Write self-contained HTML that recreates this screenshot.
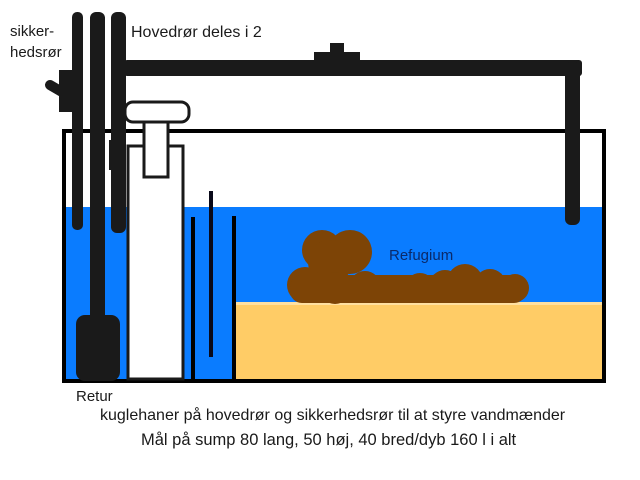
<!DOCTYPE html>
<html><head><meta charset="utf-8"><style>
html,body{margin:0;padding:0;background:#fff;width:640px;height:480px;overflow:hidden}
svg{display:block}
text{font-family:"Liberation Sans",sans-serif;fill:#1a1a1a}
</style></head><body>
<svg width="640" height="480" viewBox="0 0 640 480">
<rect x="66" y="207" width="536" height="172" fill="#0a7cff"/>
<rect x="232" y="304" width="372" height="76" fill="#ffcc66"/>
<rect x="232" y="302" width="372" height="3" fill="#ffe0a0"/>
<g fill="#7d4406">
<circle cx="322" cy="250" r="20"/><circle cx="350" cy="252" r="22"/><circle cx="330" cy="262" r="22"/>
<circle cx="305" cy="285" r="18"/><circle cx="335" cy="288" r="16"/><circle cx="365" cy="287" r="16"/>
<circle cx="395" cy="289" r="14"/><circle cx="420" cy="288" r="15"/><circle cx="445" cy="286" r="16"/>
<circle cx="465" cy="282" r="18"/><circle cx="490" cy="285" r="16"/><circle cx="515" cy="288" r="14"/>
<rect x="290" y="275" width="236" height="28" rx="12"/>
</g>
<rect x="64" y="131" width="540" height="250" fill="none" stroke="#000" stroke-width="4"/>
<g fill="#1a1a1a">
<rect x="72" y="12" width="11" height="218" rx="5"/>
<rect x="90" y="12" width="15" height="310" rx="6"/>
<rect x="76" y="315" width="44" height="66" rx="9"/>
<rect x="111" y="12" width="15" height="221" rx="6"/>
<rect x="109" y="140" width="5" height="30"/>
<rect x="59" y="70" width="14" height="42"/>
<line x1="50" y1="85" x2="62" y2="92" stroke="#1a1a1a" stroke-width="10" stroke-linecap="round"/>
<rect x="124" y="60" width="458" height="16" rx="3"/>
<rect x="565" y="62" width="15" height="163" rx="6"/>
<rect x="314" y="52" width="46" height="10"/>
<rect x="330" y="43" width="14" height="10"/>
</g>
<rect x="128" y="146" width="55" height="233" fill="#fff" stroke="#1a1a1a" stroke-width="3"/>
<rect x="144" y="122" width="24" height="55" fill="#fff" stroke="#1a1a1a" stroke-width="3"/>
<rect x="125" y="102" width="64" height="20" rx="8" fill="#fff" stroke="#1a1a1a" stroke-width="3"/>
<rect x="209" y="191" width="4" height="166" fill="#0a0a1a"/>
<rect x="191" y="217" width="4" height="164" fill="#000"/>
<rect x="232" y="216" width="4" height="165" fill="#000"/>
<text x="10" y="36" font-size="15">sikker-</text>
<text x="10" y="57" font-size="15">hedsrør</text>
<text x="131" y="37" font-size="16">Hovedrør deles i 2</text>
<text x="389" y="260" font-size="15" style="fill:#0a2a6a">Refugium</text>
<text x="76" y="401" font-size="15">Retur</text>
<text x="100" y="420" font-size="16">kuglehaner på hovedrør og sikkerhedsrør til at styre vandmænder</text>
<text x="141" y="445" font-size="16.5">Mål på sump 80 lang, 50 høj, 40 bred/dyb 160 l i alt</text>
</svg>
</body></html>
